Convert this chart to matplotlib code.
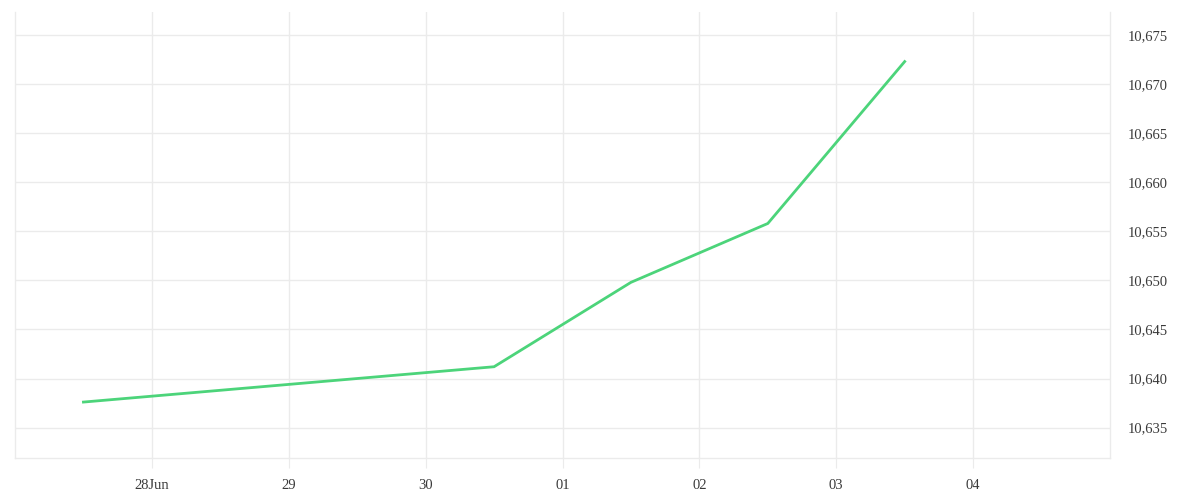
import pandas as pd
import matplotlib
matplotlib.use("Agg")
import matplotlib.pyplot as plt

# Data (half-day points)
dates = ["2023-06-27 12:00", "2023-06-30 12:00", "2023-07-01 12:00",
         "2023-07-02 12:00", "2023-07-03 12:00"]
values = [10637.6, 10641.2, 10649.8, 10655.8, 10672.3]

tick_dates = ["2023-06-28", "2023-06-29", "2023-06-30", "2023-07-01",
              "2023-07-02", "2023-07-03", "2023-07-04"]
tick_labels = ["28Jun", "29", "30", "01", "02", "03", "04"]
y_ticks = [10635, 10640, 10645, 10650, 10655, 10660, 10665, 10670, 10675]

x = pd.to_datetime(dates)
grid_col = "#ebebeb"
text_col = "#3a3a3a"

plt.rcParams["font.family"] = ["Liberation Serif", "DejaVu Serif"]

fig = plt.figure(figsize=(12, 5), dpi=100)
ax = fig.add_axes([0.0125, 0.084, 0.9125, 0.892])

ax.plot(x, values, color="#4cd47a", linewidth=2, solid_joinstyle="miter")

ax.set_xlim(pd.Timestamp("2023-06-27"), pd.Timestamp("2023-07-05"))
ax.set_ylim(10631.9, 10677.35)

ax.set_xticks(pd.to_datetime(tick_dates))
ax.set_xticklabels(tick_labels)
ax.set_yticks(y_ticks)
ax.set_yticklabels([f"{v:,}" for v in y_ticks])

ax.yaxis.tick_right()
ax.grid(True, color=grid_col, linewidth=1)
ax.set_axisbelow(True)

for side in ["left", "right", "bottom"]:
    ax.spines[side].set_color(grid_col)
    ax.spines[side].set_linewidth(1)
ax.spines["top"].set_visible(False)

ax.tick_params(axis="x", length=7, color=grid_col, labelcolor=text_col,
               labelsize=10.5, pad=8)
ax.tick_params(axis="y", length=0, labelcolor=text_col, labelsize=10.5, pad=13)

fig.savefig("out.png", dpi=100)
